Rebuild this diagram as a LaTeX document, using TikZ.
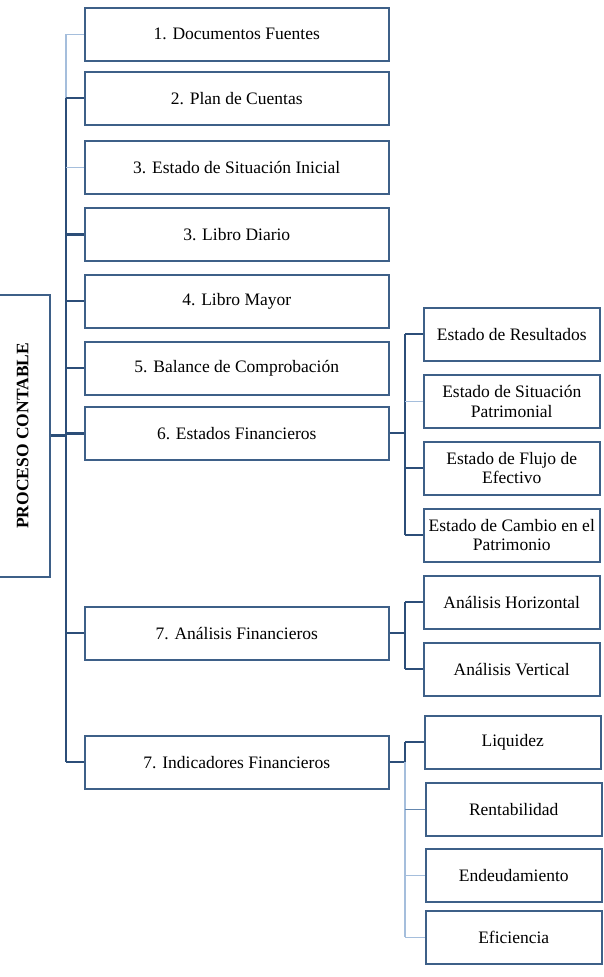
\documentclass[tikz,border=0pt]{standalone}
\usepackage{fontspec}
\setmainfont{Liberation Serif}
\definecolor{boxc}{RGB}{62,96,136}
\definecolor{dkc}{RGB}{44,78,120}
\definecolor{mdc}{RGB}{100,135,175}
\definecolor{ltc}{RGB}{165,190,220}
\begin{document}
\begin{tikzpicture}[x=1pt,y=-1pt,
  box/.style={draw=boxc, line width=1.5pt, minimum height=53pt, anchor=north west,
    inner sep=2pt, font=\fontsize{17.5}{19.5}\selectfont, align=center},
  mainbox/.style={box, minimum width=304pt},
  subbox/.style={box, minimum width=176pt},
  dk/.style={draw=dkc, line width=1.6pt},
  dkthick/.style={draw=dkc, line width=2.6pt},
  md/.style={draw=mdc, line width=1.5pt},
  lt/.style={draw=ltc, line width=1.4pt}]
\useasboundingbox (0,0) rectangle (604,977);
% left box
\node[draw=boxc, line width=1.5pt, anchor=north west, minimum width=54pt, minimum height=282pt, inner sep=0pt]
  (pc) at (-5,294) {\rotatebox{90}{\fontsize{17.5}{19.5}\selectfont\bfseries PROCESO CONTABLE}};
% main boxes
\node[mainbox] (b1) at (84,7) {1. Documentos Fuentes};
\node[mainbox] (b2) at (84,71) {2. Plan de Cuentas};
\node[mainbox] (b3) at (84,140) {3. Estado de Situación Inicial};
\node[mainbox] (b4) at (84,207) {3. Libro Diario};
\node[mainbox] (b5) at (84,274) {4. Libro Mayor};
\node[mainbox] (b6) at (84,341) {5. Balance de Comprobación};
\node[mainbox] (b7) at (84,406) {6. Estados Financieros};
\node[mainbox] (b8) at (84,606) {7. Análisis Financieros};
\node[mainbox] (b9) at (84,735) {7. Indicadores Financieros};
% sub boxes
\node[subbox] (s1) at (423,307) {Estado de Resultados};
\node[subbox] (s2) at (423,374) {Estado de Situación\\Patrimonial};
\node[subbox] (s3) at (423,441) {Estado de Flujo de\\Efectivo};
\node[subbox] (s4) at (423,508) {Estado de Cambio en el\\Patrimonio};
\node[subbox] (a1) at (423,575) {Análisis Horizontal};
\node[subbox] (a2) at (423,642) {Análisis Vertical};
\node[subbox] (i1) at (424,715) {Liquidez};
\node[subbox] (i2) at (425,782) {Rentabilidad};
\node[subbox] (i3) at (425,848) {Endeudamiento};
\node[subbox] (i4) at (425,910) {Eficiencia};
% trunk coordinates
\coordinate (T) at (66,0);
\coordinate (S) at (405,0);
% main trunk
\draw[lt] (b1.west -| T) -- (b2.west -| T);
\draw[dk] (b2.west -| T) -- (b4.west -| T);
\draw[dkthick] (b4.west -| T) -- (b7.west -| T);
\draw[dk] (b7.west -| T) -- (b9.west -| T);
\draw[dkthick] (pc.east) -- (pc.east -| T);
% branches to main boxes
\draw[lt] (b1.west -| T) -- (b1.west);
\draw[dk] (b2.west -| T) -- (b2.west);
\draw[lt] (b3.west -| T) -- (b3.west);
\draw[dkthick] (b4.west -| T) -- (b4.west);
\draw[dk] (b5.west -| T) -- (b5.west);
\draw[dk] (b6.west -| T) -- (b6.west);
\draw[dkthick] (b7.west -| T) -- (b7.west);
\draw[dk] (b8.west -| T) -- (b8.west);
\draw[dk] (b9.west -| T) -- (b9.west);
% Estados Financieros branch
\draw[dk] (b7.east) -- (b7.east -| S);
\draw[dk] (s1.west -| S) -- (s4.west -| S);
\draw[dk] (s1.west -| S) -- (s1.west);
\draw[lt] (s2.west -| S) -- (s2.west);
\draw[dk] (s3.west -| S) -- (s3.west);
\draw[dk] (s4.west -| S) -- (s4.west);
% Analisis branch
\draw[dk] (b8.east) -- (b8.east -| S);
\draw[dk] (a1.west -| S) -- (a2.west -| S);
\draw[dk] (a1.west -| S) -- (a1.west);
\draw[dk] (a2.west -| S) -- (a2.west);
% Indicadores branch
\draw[dk] (b9.east) -- (b9.east -| S);
\draw[dk] (i1.west -| S) -- (b9.east -| S);
\draw[lt] (b9.east -| S) -- (i4.west -| S);
\draw[dk] (i1.west -| S) -- (i1.west);
\draw[md] (i2.west -| S) -- (i2.west);
\draw[lt] (i3.west -| S) -- (i3.west);
\draw[lt] (i4.west -| S) -- (i4.west);
\end{tikzpicture}
\end{document}
